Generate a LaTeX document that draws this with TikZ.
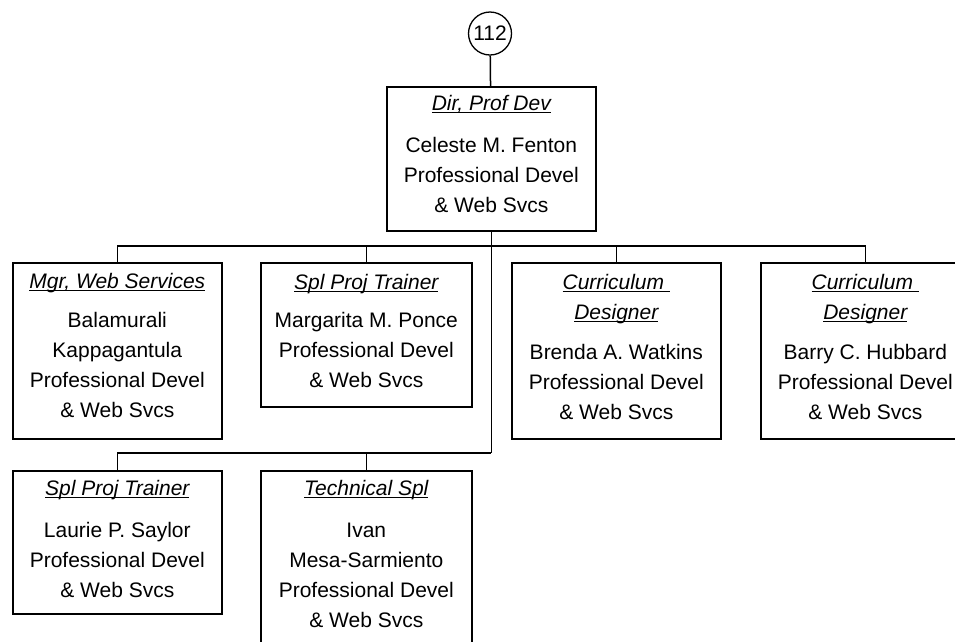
\documentclass[tikz,border=0pt]{standalone}
\usepackage{fontspec}
\setmainfont{Liberation Sans}
\newcommand\ulit[1]{\setbox0\hbox{\itshape #1}\rlap{\rule[-3.2pt]{\wd0}{1.3pt}}\box0}
\newcommand\fl{\rule{0pt}{16pt}}
\begin{document}
\begin{tikzpicture}[x=1pt,y=-1pt,
  box/.style={draw, line width=1.6pt, inner sep=0pt, anchor=north west, minimum width=209pt},
  txt/.style={align=center, inner sep=0pt, anchor=north, font=\fontsize{21}{30}\selectfont},
  conn/.style={line width=1.5pt}]
\useasboundingbox (0,0) rectangle (955,641);

% boxes
\node[draw, circle, line width=1.3pt, minimum size=43pt, inner sep=0pt, font=\fontsize{21}{25}\selectfont] (top) at (490,33.5) {112};
\node[box, minimum height=144pt] (dir) at (386,86) {};
\node[box, minimum height=176pt] (b1) at (12,262) {};
\node[box, minimum width=211pt, minimum height=144pt] (b2) at (260,262) {};
\node[box, minimum height=176pt] (b3) at (511,262) {};
\node[box, minimum height=176pt] (b4) at (760,262) {};
\node[box, minimum height=143pt] (b5) at (12,470) {};
\node[box, minimum width=211pt, minimum height=176pt] (b6) at (260,470) {};

% texts
\node[txt] (tdir) at ([yshift=-8pt]dir.north) {\fl\ulit{Dir, Prof Dev}\\[12pt] Celeste M. Fenton\\ Professional Devel\\ \& Web Svcs};
\node[txt] (t1) at ([yshift=-10pt]b1.north) {\fl\ulit{Mgr, Web Services}\\[9pt] Balamurali\\ Kappagantula\\ Professional Devel\\ \& Web Svcs};
\node[txt] (t2) at ([yshift=-11pt]b2.north) {\fl\ulit{Spl Proj Trainer}\\[8pt] Margarita M. Ponce\\ Professional Devel\\ \& Web Svcs};
\node[txt] (t3) at ([yshift=-11pt]b3.north) {\fl\ulit{Curriculum\ }\\ \ulit{Designer}\\[10pt] Brenda A. Watkins\\ Professional Devel\\ \& Web Svcs};
\node[txt] (t4) at ([yshift=-11pt]b4.north) {\fl\ulit{Curriculum\ }\\ \ulit{Designer}\\[10pt] Barry C. Hubbard\\ Professional Devel\\ \& Web Svcs};
\node[txt] (t5) at ([yshift=-9pt]b5.north) {\fl\ulit{Spl Proj Trainer}\\[12pt] Laurie P. Saylor\\ Professional Devel\\ \& Web Svcs};
\node[txt] (t6) at ([yshift=-9pt]b6.north) {\fl\ulit{Technical Spl}\\[12pt] Ivan\\ Mesa-Sarmiento\\ Professional Devel\\ \& Web Svcs};

% connectors
\coordinate (bus1) at (0,246);
\coordinate (bus2) at (0,453);
\draw[conn] (top) -- (dir);
\draw[conn] (dir.south) -- (dir.south |- bus2);
\draw[conn] (b1.north) |- (bus1 -| b4.north) -- (b4.north);
\draw[conn] (b2.north) -- (b2.north |- bus1);
\draw[conn] (b3.north) -- (b3.north |- bus1);
\draw[conn] (b5.north) |- (dir.south |- bus2);
\draw[conn] (b6.north) -- (b6.north |- bus2);
\end{tikzpicture}
\end{document}
